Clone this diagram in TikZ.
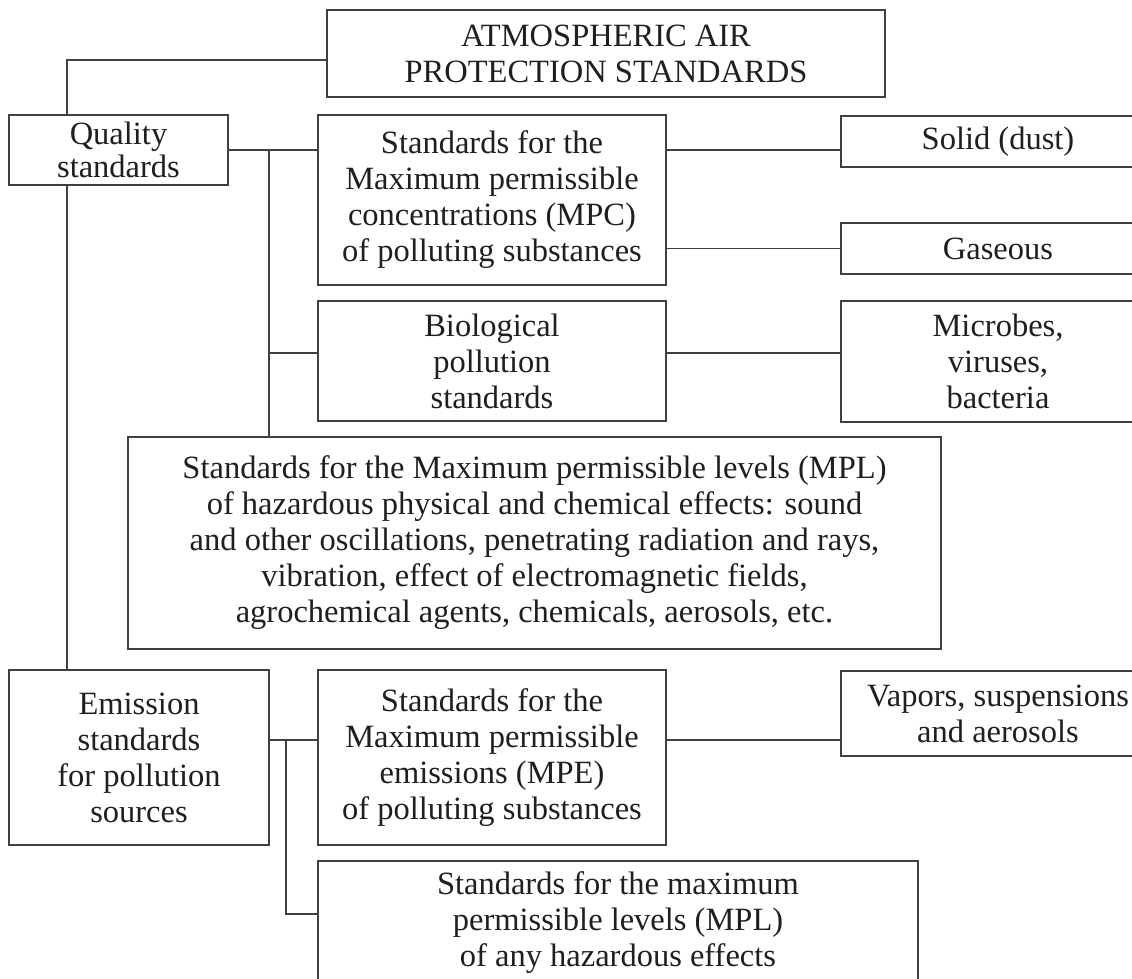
\documentclass[tikz,border=0pt]{standalone}
\usepackage{fontspec}
\setmainfont{Liberation Serif}
\begin{document}
\begin{tikzpicture}[x=1pt,y=-1pt,
  box/.style={draw=black!75, line width=1.6pt, inner sep=0pt, align=center,
    text=black!88, font=\fontsize{32.5}{36}\selectfont},
  link/.style={draw=black!75, line width=1.6pt}]
\useasboundingbox (0,0) rectangle (1132,978);
\fill[white] (0,0) rectangle (1132,978);
\clip (0,0) rectangle (1132,978);

\node[box, minimum width=558pt, minimum height=87pt] (title) at (606,53.5)
  {ATMOSPHERIC AIR\\PROTECTION STANDARDS};
\node[box, minimum width=219pt, minimum height=70pt,
  font=\fontsize{32.5}{33}\selectfont] (quality) at (118.5,150)
  {Quality\\standards};
\node[box, minimum width=348pt, minimum height=170pt] (mpc) at (492,200)
  {Standards for the\\Maximum permissible\\concentrations (MPC)\\of polluting substances};
\node[box, minimum width=314pt, minimum height=51pt] (solid) at (998,141.5)
  {Solid (dust)};
\node[box, minimum width=314pt, minimum height=51pt] (gas) at (998,248.5)
  {Gaseous};
\node[box, minimum width=348pt, minimum height=120pt] (bio) at (492,361)
  {Biological\\pollution\\standards};
\node[box, minimum width=314pt, minimum height=121pt] (microbes) at (998,361.5)
  {Microbes,\\viruses,\\bacteria};
\node[box, minimum width=813pt, minimum height=212pt] (mpl) at (534.5,543)
  {Standards for the Maximum permissible levels (MPL)\\
   of hazardous physical and chemical effects: sound\\
   and other oscillations, penetrating radiation and rays,\\
   vibration, effect of electromagnetic fields,\\
   agrochemical agents, chemicals, aerosols, etc.};
\node[box, minimum width=260pt, minimum height=175pt] (emission) at (139,757.5)
  {Emission\\standards\\for pollution\\sources};
\node[box, minimum width=348pt, minimum height=175pt] (mpe) at (492,757.5)
  {Standards for the\\Maximum permissible\\emissions (MPE)\\of polluting substances};
\node[box, minimum width=314pt, minimum height=85pt] (vapors) at (998,713.5)
  {Vapors, suspensions\\and aerosols};
\node[box, minimum width=600pt, minimum height=124pt] (bottom) at (618,923)
  {Standards for the maximum\\permissible levels (MPL)\\of any hazardous effects};

\coordinate (spine) at (67,0);
\coordinate (bus1) at (269,150);
\coordinate (bus2) at (286,740);
\coordinate (lvA) at (0,150);
\coordinate (lvB) at (0,353);
\coordinate (lvC) at (0,740);
\coordinate (lvD) at (0,914);

\draw[link] ([yshift=-6.5pt]title.west) -| (spine |- quality.north);
\draw[link] (spine |- quality.south) -- (spine |- emission.north);
\draw[link] (quality.east |- lvA) -- (mpc.west |- lvA);
\draw[link] (bus1) -- (bus1 |- mpl.north);
\draw[link] (bus1 |- lvB) -- (bio.west |- lvB);
\draw[link] (mpc.east |- lvA) -- (solid.west |- lvA);
\draw[link] (mpc.east |- gas.west) -- (gas.west);
\draw[link] (bio.east |- lvB) -- (microbes.west |- lvB);
\draw[link] (emission.east |- lvC) -- (mpe.west |- lvC);
\draw[link] (bus2) -- (bus2 |- lvD) -- (bottom.west |- lvD);
\draw[link] (mpe.east |- lvC) -- (vapors.west |- lvC);
\end{tikzpicture}
\end{document}
